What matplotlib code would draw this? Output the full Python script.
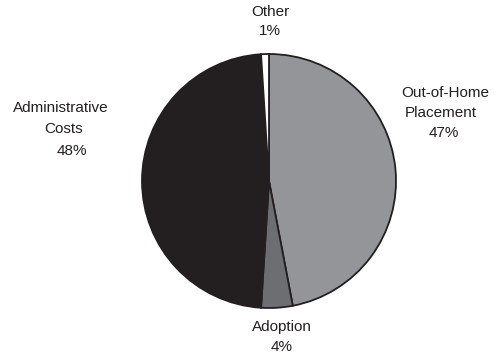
import matplotlib
matplotlib.use("Agg")
import matplotlib.pyplot as plt

categories = ["Out-of-Home Placement", "Adoption", "Administrative Costs", "Other"]
shares = [47, 4, 48, 1]
colors = ["#949599", "#6d6e71", "#231f20", "#ffffff"]
# label lines as they appear on the chart
label_lines = [["Out-of-Home", "Placement", "47%"],
               ["Adoption", "4%"],
               ["Administrative", "Costs", "48%"],
               ["Other", "1%"]]

W, H = 496, 358
fig = plt.figure(figsize=(W / 100, H / 100), dpi=100)
ax = fig.add_axes([0, 0, 1, 1])
ax.set_xlim(0, W); ax.set_ylim(0, H)
ax.set_aspect("equal")
ax.axis("off")

ax.pie(shares, colors=colors, startangle=90, counterclock=False,
       center=(269, H - 181), radius=127,
       wedgeprops=dict(edgecolor="#231f20", linewidth=1.3))
ax.set_xlim(0, W); ax.set_ylim(0, H)

# pixel positions (x centre, y from top) for each line
pos = [[(445, 93), (441, 113), (444, 133)],
       [(282, 327), (282, 347)],
       [(61, 108), (64, 129), (72, 151)],
       [(270, 12), (270, 31)]]
for lines, pts in zip(label_lines, pos):
    for s, (x, y) in zip(lines, pts):
        ax.text(x, H - y, s, ha="center", va="center", fontsize=11,
                family="Liberation Sans", color="#231f20")

fig.savefig("out.png", dpi=100)
